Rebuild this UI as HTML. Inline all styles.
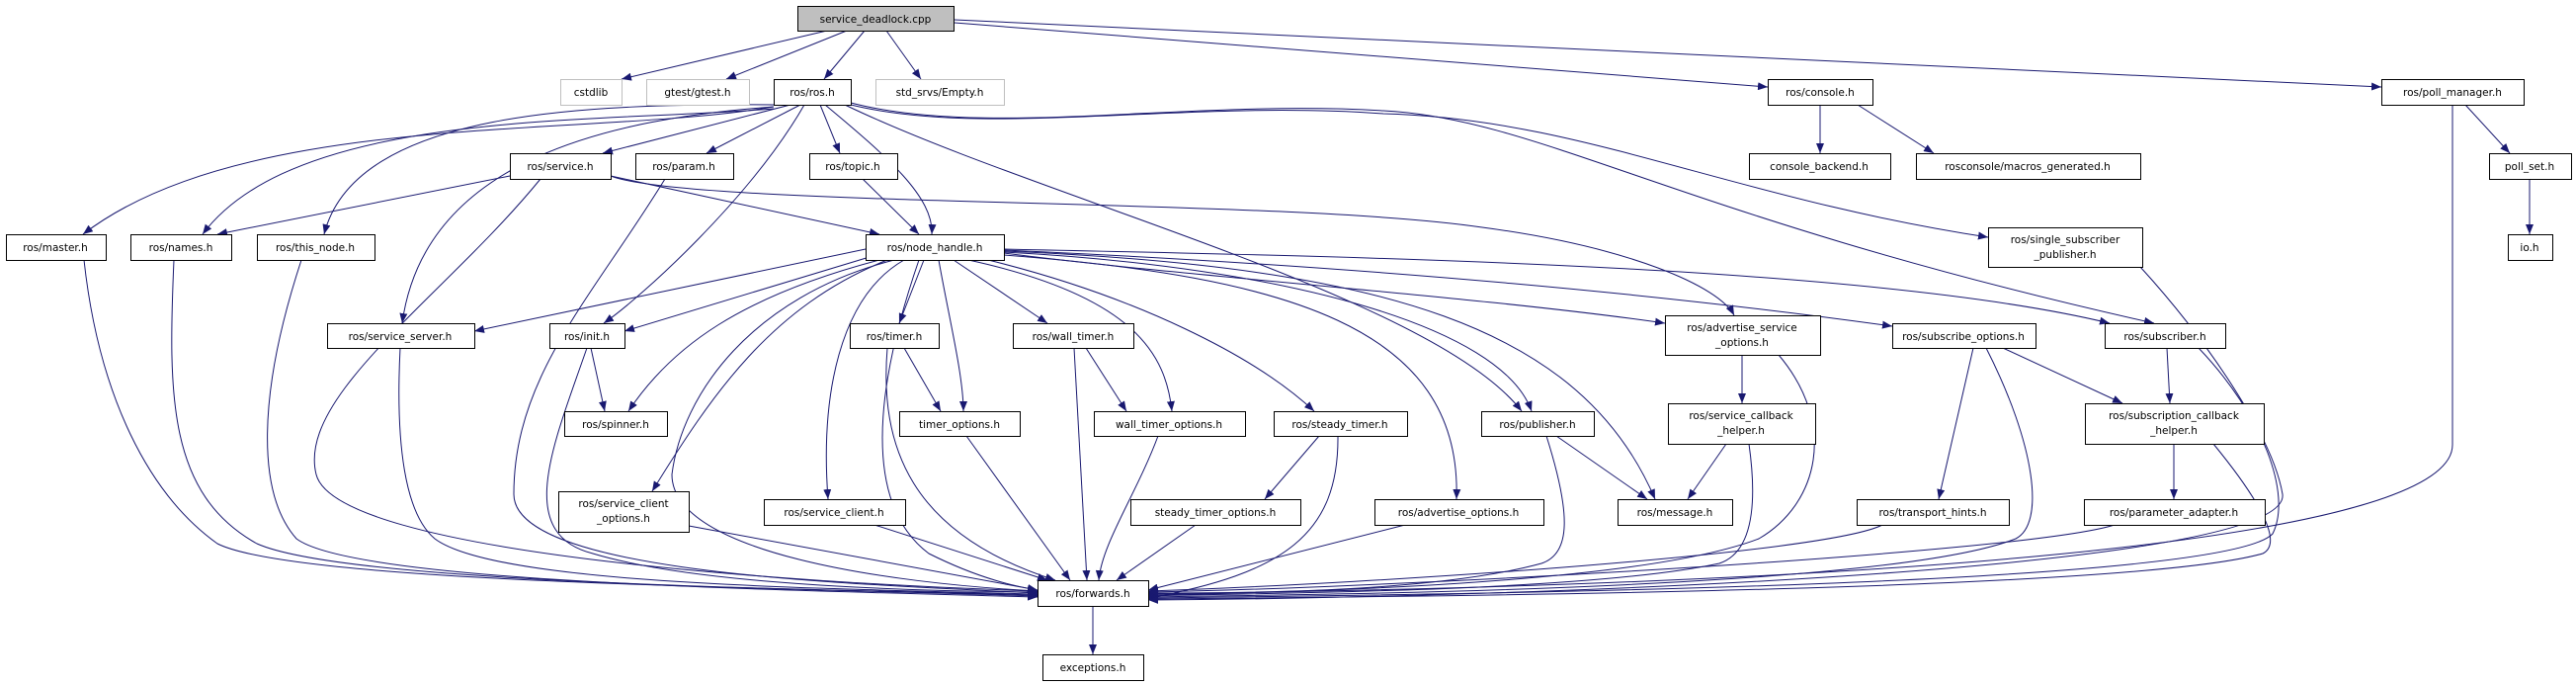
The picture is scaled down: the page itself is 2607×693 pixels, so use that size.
<!DOCTYPE html>
<html><head><meta charset="utf-8"><style>
html,body{margin:0;padding:0;background:#fff;width:2607px;height:693px;overflow:hidden}
svg{display:block}
text{font-family:"DejaVu Sans","Liberation Sans",sans-serif;font-size:10.5px;fill:#000;text-anchor:middle}
.n{fill:#fff;stroke:#000;stroke-width:1}
.g{fill:#fff;stroke:#bfbfbf;stroke-width:1}
.e{fill:none;stroke:#191970;stroke-width:1}
</style></head><body>
<svg width="2607" height="693" viewBox="0 0 2607 693" xmlns="http://www.w3.org/2000/svg">
<defs><marker id="a" markerUnits="userSpaceOnUse" markerWidth="10" markerHeight="8" refX="10" refY="4" orient="auto"><path d="M0,0 L10,4 L0,8 z" fill="#191970"/></marker></defs>
<g marker-end="url(#a)">
<path class="e" d="M837 31 L629 80"/>
<path class="e" d="M857 31 L735 80"/>
<path class="e" d="M875 31 L834 80"/>
<path class="e" d="M897 31 L932 80"/>
<path class="e" d="M966 23 L1789 88"/>
<path class="e" d="M966 20 L2410 88"/>
<path class="e" d="M783 108 C600 140, 250 110, 84 237"/>
<path class="e" d="M783 110 C600 125, 300 110, 205 237"/>
<path class="e" d="M783 106 C600 105, 360 110, 328 237"/>
<path class="e" d="M783 108 C620 120, 430 160, 407 327"/>
<path class="e" d="M800 106 L610 155"/>
<path class="e" d="M810 106 L715 155"/>
<path class="e" d="M814 106 C760 200, 650 300, 611 327"/>
<path class="e" d="M830 106 L850 155"/>
<path class="e" d="M835 106 C900 160, 945 200, 943 237"/>
<path class="e" d="M855 106 C1050 200, 1450 300, 1540 416"/>
<path class="e" d="M861 106 C1000 140, 1200 100, 1400 115 C1600 120, 1750 200, 2012 240"/>
<path class="e" d="M861 104 C1000 140, 1200 100, 1400 112 C1560 120, 1700 220, 2180 327"/>
<path class="e" d="M516 178 L220 237"/>
<path class="e" d="M618 178 L890 237"/>
<path class="e" d="M618 178 C700 210, 1300 200, 1500 230 C1650 250, 1740 290, 1755 319"/>
<path class="e" d="M547 181 C450 300, 300 400, 320 480 C340 560, 800 590, 1050 598"/>
<path class="e" d="M673 181 C600 300, 520 380, 520 500 C520 580, 850 590, 1050 600"/>
<path class="e" d="M873 181 L930 237"/>
<path class="e" d="M1842 106 L1842 155"/>
<path class="e" d="M1880 106 L1957 155"/>
<path class="e" d="M2495 106 L2540 155"/>
<path class="e" d="M2560 181 L2560 237"/>
<path class="e" d="M2482 106 L2482 450 C2482 540, 2000 590, 1162 601"/>
<path class="e" d="M85 263 C100 400, 150 500, 220 550 C300 590, 800 595, 1050 602"/>
<path class="e" d="M176 263 C170 400, 170 500, 260 550 C350 590, 800 595, 1050 603"/>
<path class="e" d="M305 263 C260 400, 260 500, 300 545 C360 590, 800 597, 1050 604"/>
<path class="e" d="M405 352 C400 450, 410 520, 440 545 C500 590, 800 595, 1050 601"/>
<path class="e" d="M876 252 L480 335"/>
<path class="e" d="M880 260 L632 335"/>
<path class="e" d="M890 263 C750 300, 680 350, 636 416"/>
<path class="e" d="M898 263 C780 310, 720 400, 660 497"/>
<path class="e" d="M905 263 C760 300, 690 400, 680 480 C680 560, 900 590, 1050 598"/>
<path class="e" d="M915 263 C850 300, 830 400, 838 505"/>
<path class="e" d="M935 263 L910 327"/>
<path class="e" d="M950 263 C960 320, 975 380, 975 416"/>
<path class="e" d="M965 263 L1060 327"/>
<path class="e" d="M980 263 C1150 300, 1180 360, 1186 416"/>
<path class="e" d="M1000 263 C1150 300, 1270 360, 1330 416"/>
<path class="e" d="M1016 258 C1300 280, 1480 330, 1474 505"/>
<path class="e" d="M1016 255 C1300 270, 1520 330, 1550 416"/>
<path class="e" d="M1016 254 C1400 270, 1600 330, 1675 505"/>
<path class="e" d="M1016 256 C1200 280, 1500 300, 1685 327"/>
<path class="e" d="M1016 253 C1400 270, 1700 300, 1915 330"/>
<path class="e" d="M1016 252 C1400 260, 1900 270, 2135 327"/>
<path class="e" d="M930 263 C900 350, 860 500, 940 560 C1000 590, 1040 595, 1050 597"/>
<path class="e" d="M915 352 L952 416"/>
<path class="e" d="M898 352 C890 450, 920 540, 1068 587"/>
<path class="e" d="M1087 352 L1100 587"/>
<path class="e" d="M1099 352 L1140 416"/>
<path class="e" d="M1335 441 L1280 505"/>
<path class="e" d="M1354 441 C1355 540, 1300 580, 1162 605"/>
<path class="e" d="M978 441 L1083 587"/>
<path class="e" d="M1172 441 C1150 500, 1115 550, 1112 587"/>
<path class="e" d="M1210 531 L1130 587"/>
<path class="e" d="M594 352 C560 450, 520 540, 600 560 C700 590, 900 598, 1050 599"/>
<path class="e" d="M598 352 L612 416"/>
<path class="e" d="M697 532 L1050 597"/>
<path class="e" d="M885 531 L1060 587"/>
<path class="e" d="M1422 531 L1162 597"/>
<path class="e" d="M1575 441 L1667 505"/>
<path class="e" d="M1565 441 C1590 520, 1590 560, 1560 570 C1450 600, 1250 600, 1162 600"/>
<path class="e" d="M1763 359 L1763 408"/>
<path class="e" d="M1800 359 C1860 430, 1840 510, 1780 545 C1650 595, 1250 600, 1162 602"/>
<path class="e" d="M1747 449 L1708 505"/>
<path class="e" d="M1770 449 C1780 520, 1770 560, 1740 570 C1600 600, 1250 600, 1162 603"/>
<path class="e" d="M1997 352 L1962 505"/>
<path class="e" d="M2027 352 L2148 408"/>
<path class="e" d="M2010 352 C2060 450, 2070 530, 2040 545 C1900 600, 1250 602, 1162 604"/>
<path class="e" d="M2193 352 L2196 408"/>
<path class="e" d="M2225 352 C2290 420, 2320 500, 2300 540 C2250 595, 1400 602, 1162 605"/>
<path class="e" d="M2200 449 L2200 505"/>
<path class="e" d="M2240 449 C2290 510, 2310 550, 2290 560 C2150 600, 1350 604, 1162 606"/>
<path class="e" d="M1905 531 C1850 560, 1400 590, 1162 598"/>
<path class="e" d="M2140 531 C2050 560, 1400 595, 1162 599"/>
<path class="e" d="M2166 270 C2230 340, 2300 440, 2310 500 C2320 580, 1500 605, 1162 607"/>
<path class="e" d="M1106 613 L1106 662"/>
</g>
<rect x="807.5" y="6.5" width="158" height="25" fill="#bfbfbf" stroke="#000"/><text x="886" y="23">service_deadlock.cpp</text>
<rect class="g" x="567.5" y="80.5" width="62" height="26"/><text x="598" y="97">cstdlib</text>
<rect class="g" x="654.5" y="80.5" width="104" height="26"/><text x="706" y="97">gtest/gtest.h</text>
<rect class="n" x="783.5" y="80.5" width="78" height="26"/><text x="822" y="97">ros/ros.h</text>
<rect class="g" x="886.5" y="80.5" width="130" height="26"/><text x="951" y="97">std_srvs/Empty.h</text>
<rect class="n" x="1789.5" y="80.5" width="106" height="26"/><text x="1842" y="97">ros/console.h</text>
<rect class="n" x="2410.5" y="80.5" width="144" height="26"/><text x="2482" y="97">ros/poll_manager.h</text>
<rect class="n" x="516.5" y="155.5" width="102" height="26"/><text x="567" y="172">ros/service.h</text>
<rect class="n" x="643.5" y="155.5" width="99" height="26"/><text x="692" y="172">ros/param.h</text>
<rect class="n" x="819.5" y="155.5" width="89" height="26"/><text x="863" y="172">ros/topic.h</text>
<rect class="n" x="1770.5" y="155.5" width="143" height="26"/><text x="1841" y="172">console_backend.h</text>
<rect class="n" x="1939.5" y="155.5" width="227" height="26"/><text x="2052" y="172">rosconsole/macros_generated.h</text>
<rect class="n" x="2519.5" y="155.5" width="83" height="26"/><text x="2560" y="172">poll_set.h</text>
<rect class="n" x="6.5" y="237.5" width="101" height="26"/><text x="56" y="254">ros/master.h</text>
<rect class="n" x="132.5" y="237.5" width="102" height="26"/><text x="183" y="254">ros/names.h</text>
<rect class="n" x="260.5" y="237.5" width="119" height="26"/><text x="319" y="254">ros/this_node.h</text>
<rect class="n" x="876.5" y="237.5" width="140" height="26"/><text x="946" y="254">ros/node_handle.h</text>
<rect class="n" x="2012.5" y="230.5" width="156" height="40"/><text x="2090" y="246">ros/single_subscriber</text><text x="2090" y="261">_publisher.h</text>
<rect class="n" x="2538.5" y="237.5" width="45" height="26"/><text x="2560" y="254">io.h</text>
<rect class="n" x="331.5" y="327.5" width="149" height="25"/><text x="405" y="344">ros/service_server.h</text>
<rect class="n" x="556.5" y="327.5" width="76" height="25"/><text x="594" y="344">ros/init.h</text>
<rect class="n" x="860.5" y="327.5" width="90" height="25"/><text x="905" y="344">ros/timer.h</text>
<rect class="n" x="1025.5" y="327.5" width="122" height="25"/><text x="1086" y="344">ros/wall_timer.h</text>
<rect class="n" x="1685.5" y="319.5" width="157" height="40"/><text x="1763" y="335">ros/advertise_service</text><text x="1763" y="350">_options.h</text>
<rect class="n" x="1915.5" y="327.5" width="145" height="25"/><text x="1987" y="344">ros/subscribe_options.h</text>
<rect class="n" x="2130.5" y="327.5" width="122" height="25"/><text x="2191" y="344">ros/subscriber.h</text>
<rect class="n" x="571.5" y="416.5" width="104" height="25"/><text x="623" y="433">ros/spinner.h</text>
<rect class="n" x="910.5" y="416.5" width="122" height="25"/><text x="971" y="433">timer_options.h</text>
<rect class="n" x="1107.5" y="416.5" width="153" height="25"/><text x="1183" y="433">wall_timer_options.h</text>
<rect class="n" x="1289.5" y="416.5" width="135" height="25"/><text x="1356" y="433">ros/steady_timer.h</text>
<rect class="n" x="1499.5" y="416.5" width="114" height="25"/><text x="1556" y="433">ros/publisher.h</text>
<rect class="n" x="1688.5" y="408.5" width="149" height="41"/><text x="1762" y="424">ros/service_callback</text><text x="1762" y="439">_helper.h</text>
<rect class="n" x="2110.5" y="408.5" width="181" height="41"/><text x="2200" y="424">ros/subscription_callback</text><text x="2200" y="439">_helper.h</text>
<rect class="n" x="565.5" y="497.5" width="132" height="41"/><text x="631" y="513">ros/service_client</text><text x="631" y="528">_options.h</text>
<rect class="n" x="773.5" y="505.5" width="143" height="26"/><text x="844" y="522">ros/service_client.h</text>
<rect class="n" x="1144.5" y="505.5" width="172" height="26"/><text x="1230" y="522">steady_timer_options.h</text>
<rect class="n" x="1391.5" y="505.5" width="171" height="26"/><text x="1476" y="522">ros/advertise_options.h</text>
<rect class="n" x="1637.5" y="505.5" width="116" height="26"/><text x="1695" y="522">ros/message.h</text>
<rect class="n" x="1879.5" y="505.5" width="154" height="26"/><text x="1956" y="522">ros/transport_hints.h</text>
<rect class="n" x="2109.5" y="505.5" width="183" height="26"/><text x="2200" y="522">ros/parameter_adapter.h</text>
<rect class="n" x="1050.5" y="587.5" width="112" height="26"/><text x="1106" y="604">ros/forwards.h</text>
<rect class="n" x="1055.5" y="662.5" width="102" height="26"/><text x="1106" y="679">exceptions.h</text>
</svg>
</body></html>
